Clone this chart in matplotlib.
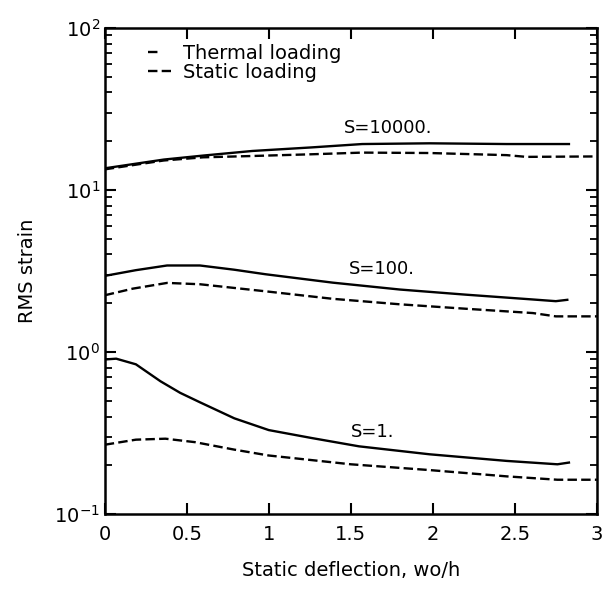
import matplotlib.pyplot as plt
from matplotlib.lines import Line2D

# values (x = wo/h, y = RMS strain)
x_s10000 = [0.0, 0.36, 0.6, 0.9, 1.26, 1.57, 1.98, 2.45, 2.83]
th_s10000 = [13.6, 15.4, 16.3, 17.4, 18.3, 19.2, 19.4, 19.2, 19.2]
xs_s10000 = [0.0, 0.36, 0.6, 0.9, 1.26, 1.57, 1.98, 2.45, 2.57, 3.0]
st_s10000 = [13.4, 15.2, 15.9, 16.2, 16.6, 17.0, 16.9, 16.4, 16.0, 16.1]

x_s100 = [0.0, 0.19, 0.38, 0.58, 0.79, 0.98, 1.39, 1.8, 2.2, 2.61, 2.75, 2.82]
th_s100 = [2.95, 3.2, 3.42, 3.42, 3.22, 3.02, 2.68, 2.43, 2.26, 2.11, 2.06, 2.1]
xs_s100 = [0.0, 0.17, 0.38, 0.58, 0.98, 1.39, 1.8, 2.2, 2.61, 2.75, 3.0]
st_s100 = [2.24, 2.46, 2.67, 2.62, 2.37, 2.13, 1.97, 1.85, 1.74, 1.66, 1.66]

x_s1 = [0.0, 0.07, 0.19, 0.34, 0.46, 0.58, 0.79, 1.0, 1.26, 1.55, 1.98, 2.45, 2.76, 2.83]
th_s1 = [0.9, 0.91, 0.84, 0.66, 0.56, 0.49, 0.39, 0.33, 0.295, 0.262, 0.234, 0.213, 0.203, 0.208]
xs_s1 = [0.0, 0.19, 0.37, 0.55, 0.79, 1.0, 1.5, 1.98, 2.45, 2.76, 3.0]
st_s1 = [0.268, 0.288, 0.292, 0.278, 0.25, 0.23, 0.203, 0.187, 0.171, 0.163, 0.163]

curve_labels = ['S=10000.', 'S=100.', 'S=1.']
label_pos = [(1.46, 21.3), (1.49, 2.85), (1.5, 0.282)]

plt.rcParams['font.family'] = 'DejaVu Sans'
fig = plt.figure(figsize=(6.09, 5.93), dpi=100)
ax = fig.add_axes([0.172, 0.133, 0.808, 0.820])

dash = (0, (4, 1.8))
lw = 1.7
ax.plot(x_s10000, th_s10000, color='black', lw=lw)
ax.plot(xs_s10000, st_s10000, color='black', lw=lw, ls=dash)
ax.plot(x_s100, th_s100, color='black', lw=lw)
ax.plot(xs_s100, st_s100, color='black', lw=lw, ls=dash)
ax.plot(x_s1, th_s1, color='black', lw=lw)
ax.plot(xs_s1, st_s1, color='black', lw=lw, ls=dash)

for txt, (lx, ly) in zip(curve_labels, label_pos):
    ax.text(lx, ly, txt, fontsize=13, ha='left', va='bottom')

ax.set_yscale('log')
ax.set_xlim(0, 3)
ax.set_ylim(0.1, 100)
ax.set_xticks([0, 0.5, 1, 1.5, 2, 2.5, 3])
ax.set_xticklabels(['0', '0.5', '1', '1.5', '2', '2.5', '3'])
ax.tick_params(which='both', direction='in', top=True, right=True, labelsize=14)
ax.tick_params(which='major', length=8, width=1.5)
ax.tick_params(which='minor', length=5, width=1.3)
ax.tick_params(axis='x', pad=8)
for sp in ax.spines.values():
    sp.set_linewidth(1.8)

ax.set_xlabel('Static deflection, wo/h', fontsize=14, labelpad=12)
ax.set_ylabel('RMS strain', fontsize=14, labelpad=12)

# legend: one dash for thermal, two dashes for static, like the original
h_thermal = Line2D([], [], color='black', lw=lw, ls=(0, (4, 20)))
h_static = Line2D([], [], color='black', lw=lw, ls=(0, (4, 1.8)))
ax.legend([h_thermal, h_static], ['Thermal loading', 'Static loading'],
          loc='upper left', bbox_to_anchor=(0.06, 0.995), frameon=False, fontsize=14,
          handlelength=1.2, handletextpad=0.6, labelspacing=0.0, borderaxespad=0.3)

fig.savefig('out.png', dpi=100)
